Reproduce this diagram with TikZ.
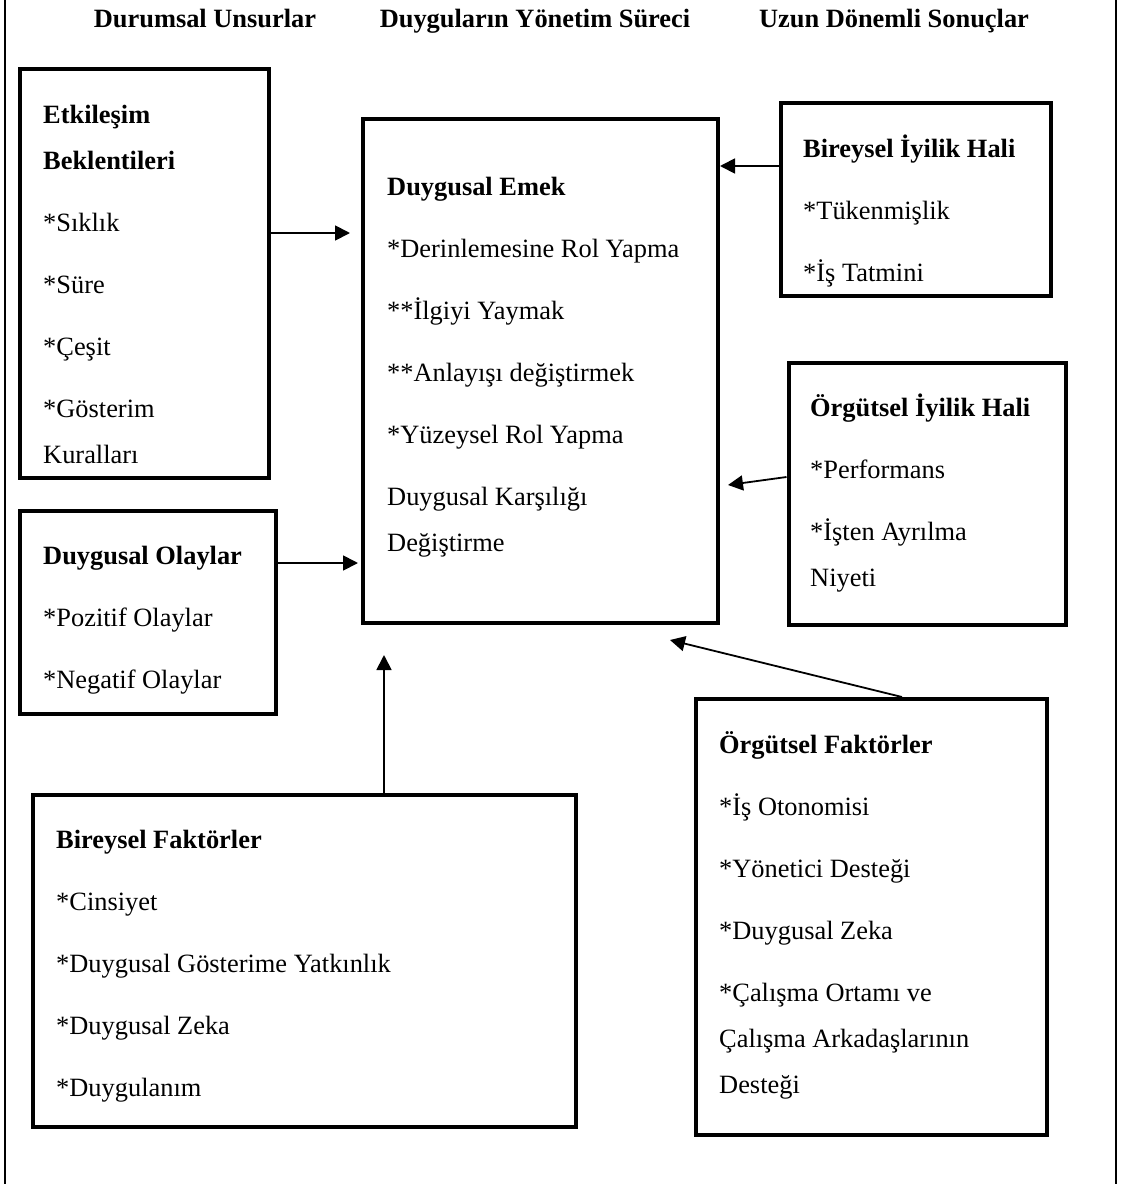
\documentclass[tikz,border=0pt]{standalone}
\usepackage{fontspec}
\setmainfont{Liberation Serif}
\usetikzlibrary{arrows.meta, positioning}

\begin{document}
\begin{tikzpicture}[
    x=1pt, y=-1pt,
    box/.style={rectangle, draw, line width=4pt, inner sep=0pt},
    txt/.style={anchor=north west, yshift=32.2pt, inner sep=0pt, align=left, font=\fontsize{26.4}{46}\selectfont},
    head/.style={anchor=base, inner sep=0pt, font=\fontsize{26.4}{46}\selectfont\bfseries},
    arrow/.style={-{Triangle[length=15pt, width=15pt]}, line width=1.8pt}
]
\useasboundingbox (0,0) rectangle (1121,1184);

% Outer frame (only the sides are visible)
\draw[line width=2pt] (5,0) -- (5,1184);
\draw[line width=2pt] (1116,0) -- (1116,1184);

% Column headings
\node[head] (head-sit) at (205,27) {Durumsal Unsurlar};
\node[head] (head-proc) at (535,27) {Duyguların Yönetim Süreci};
\node[head] (head-out) at (894,27) {Uzun Dönemli Sonuçlar};

% Boxes
\node[box, minimum width=249pt, minimum height=409pt] (etk) at (144,273.5) {};
\node[box, minimum width=355pt, minimum height=504pt] (emek) at (540.5,371) {};
\node[box, minimum width=270pt, minimum height=193pt] (biy) at (915.5,199.5) {};
\node[box, minimum width=277pt, minimum height=262pt] (oiy) at (927,494) {};
\node[box, minimum width=256pt, minimum height=203pt] (dol) at (148,612.5) {};
\node[box, minimum width=543pt, minimum height=332pt] (bfk) at (304.5,961) {};
\node[box, minimum width=351pt, minimum height=436pt] (ofk) at (871.5,917) {};

% Box texts (placed at the baseline of their first line)
\node[txt] (etk-t) at (43,123) {\strut\textbf{Etkileşim}\\\textbf{Beklentileri}\\[16pt]
    *Sıklık\\[16pt]*Süre\\[16pt]*Çeşit\\[16pt]*Gösterim\\Kuralları};
\node[txt] (emek-t) at (387,195) {\strut\textbf{Duygusal Emek}\\[16pt]
    *Derinlemesine Rol Yapma\\[16pt]**İlgiyi Yaymak\\[16pt]**Anlayışı değiştirmek\\[16pt]
    *Yüzeysel Rol Yapma\\[16pt]Duygusal Karşılığı\\Değiştirme};
\node[txt] (biy-t) at (803,157) {\strut\textbf{Bireysel İyilik Hali}\\[16pt]
    *Tükenmişlik\\[16pt]*İş Tatmini};
\node[txt] (oiy-t) at (810,416) {\strut\textbf{Örgütsel İyilik Hali}\\[16pt]
    *Performans\\[16pt]*İşten Ayrılma\\Niyeti};
\node[txt] (dol-t) at (43,564) {\strut\textbf{Duygusal Olaylar}\\[16pt]
    *Pozitif Olaylar\\[16pt]*Negatif Olaylar};
\node[txt] (bfk-t) at (56,848) {\strut\textbf{Bireysel Faktörler}\\[16pt]
    *Cinsiyet\\[16pt]*Duygusal Gösterime Yatkınlık\\[16pt]*Duygusal Zeka\\[16pt]*Duygulanım};
\node[txt] (ofk-t) at (719,753) {\strut\textbf{Örgütsel Faktörler}\\[16pt]
    *İş Otonomisi\\[16pt]*Yönetici Desteği\\[16pt]*Duygusal Zeka\\[16pt]
    *Çalışma Ortamı ve\\Çalışma Arkadaşlarının\\Desteği};

% Arrows towards the emotional labour box
\coordinate (tip-etk) at (350,233);
\coordinate (tip-dol) at (358,563);
\coordinate (tip-biy) at (720,166);
\coordinate (tip-oiy) at (728,485);
\coordinate (tip-ofk) at (670,640);
\coordinate (tip-bfk) at (384,655);
\draw[arrow] (etk.east |- tip-etk) -- (tip-etk);
\draw[arrow] (dol.east |- tip-dol) -- (tip-dol);
\draw[arrow] (biy.west |- tip-biy) -- (tip-biy);
\draw[arrow] ([yshift=17pt]oiy.west) -- (tip-oiy);
\draw[arrow] ([xshift=30.5pt]ofk.north) -- (tip-ofk);
\draw[arrow] (bfk.north -| tip-bfk) -- (tip-bfk);

\end{tikzpicture}
\end{document}
